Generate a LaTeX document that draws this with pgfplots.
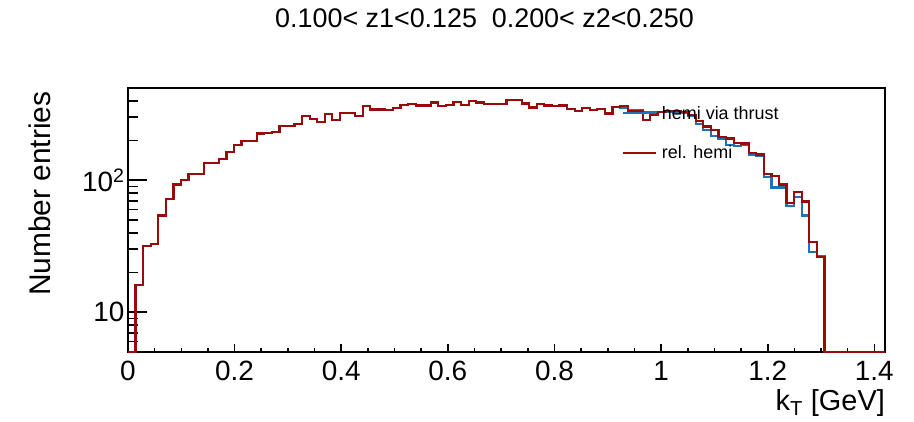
\documentclass[border=0pt]{standalone}
\usepackage{fontspec}
\setmainfont{Liberation Sans}
\usepackage{pgfplots}
\pgfplotsset{compat=1.18}
\usepackage{pgfplotstable}
\definecolor{hblue}{RGB}{30,115,180}
\definecolor{hred}{RGB}{155,10,10}

\pgfplotstableread{
x red blue
0 5 5
0.0142 16 16
0.0284 31.6 31.6
0.0426 33 33
0.0568 54 54
0.071 72 72
0.0852 93 93
0.0994 100 100
0.1136 111 111
0.1278 111 111
0.142 135 135
0.1562 135 135
0.1704 145 145
0.1846 163 163
0.1988 184 184
0.213 199 199
0.2272 199 199
0.2414 226 226
0.2556 228 228
0.2698 231 231
0.284 258 258
0.2982 258 258
0.3124 266 266
0.3266 308 308
0.3408 290 290
0.355 277 277
0.3692 317 317
0.3834 285 285
0.3976 324 324
0.4118 324 324
0.426 306 306
0.4402 365 365
0.4544 344 344
0.4686 344 344
0.4828 340 340
0.497 352 352
0.5112 371 371
0.5254 376 376
0.5396 369 369
0.5538 369 369
0.568 389 389
0.5822 363 363
0.5964 371 371
0.6106 391 391
0.6248 373 373
0.639 398 398
0.6532 389 389
0.6674 380 380
0.6816 380 380
0.6958 380 380
0.71 407 407
0.7242 407 407
0.7384 382 382
0.7526 356 356
0.7668 376 376
0.781 369 369
0.7952 363 363
0.8094 369 369
0.8236 346 346
0.8378 334 334
0.852 352 352
0.8662 340 340
0.8804 346 346
0.8946 321 321
0.9088 358 358
0.923 367 355
0.9372 334 340
0.9514 334 340
0.9656 286 330
0.9798 315 328
0.994 330 330
1.0082 334 328
1.0224 334 325
1.0366 328 323
1.0508 312 306
1.065 281 266
1.0792 255 240
1.0934 240 216
1.1076 213 205
1.1218 207 184
1.136 191 183
1.1502 190 184
1.1644 160 157
1.1786 157 152
1.1928 111 106
1.207 107 88
1.2212 93 88
1.2354 67 63.5
1.2496 81 75
1.2638 69 54
1.278 34 28.6
1.2922 26.2 26.5
1.3064 5 5
1.42 5 5
}\hist

\begin{document}
\begin{tikzpicture}
\begin{axis}[
  scale only axis, width=757bp, height=264bp,
  xmin=0, xmax=1.42,
  ymode=log, ymin=5, ymax=500,
  axis line style={line width=1.6bp, black},
  every tick/.style={black, line width=1.6bp},
  tick align=inside, xtick pos=bottom, ytick pos=left,
  xtick={0,0.2,0.4,0.6,0.8,1,1.2,1.4},
  minor x tick num=3,
  ytick={10,100}, yticklabels={10,10\textsuperscript{2}},
  minor ytick={6,7,8,9,20,30,40,50,60,70,80,90,200,300,400},
  xtick style={/pgfplots/major tick length=8bp,/pgfplots/minor tick length=4.5bp},
  ytick style={/pgfplots/major tick length=19bp,/pgfplots/minor tick length=10bp},
  /pgf/number format/assume math mode=true,
  xticklabel style={font=\fontsize{28}{30}\selectfont, anchor=base, yshift=-28bp},
  yticklabel style={font=\fontsize{28}{30}\selectfont, anchor=east},
  title={0.100< z1<0.125\hspace{0.55em}0.200< z2<0.250},
  title style={at={(rel axis cs:0.471,1.208)}, anchor=base, font=\fontsize{27}{30}\selectfont},
  ylabel={Number entries},
  ylabel style={at={(rel axis cs:-0.103,1)}, anchor=base east, font=\fontsize{30}{32}\selectfont},
  xlabel={k\textsubscript{T} [GeV]},
  xlabel style={at={(rel axis cs:1,0)}, anchor=base east, inner xsep=0pt, yshift=-58bp, font=\fontsize{29}{32}\selectfont},
  legend cell align=left,
  legend image code/.code={\draw[#1] (0bp,0bp) -- (33bp,0bp);},
  legend style={draw=none, fill=none, at={(rel axis cs:0.652,0.94)}, anchor=north west,
    inner sep=0pt, row sep=21bp, column sep=3bp,
    font=\fontsize{18}{20}\selectfont},
]
\addplot[const plot mark left, hblue, line width=2.2bp] table[x=x, y=blue] {\hist};
\addlegendentry{hemi via thrust}
\addplot[const plot mark left, hred, line width=2.2bp] table[x=x, y=red] {\hist};
\addlegendentry{rel. hemi}
\coordinate (bl) at (rel axis cs:0,0);
\coordinate (tr) at (rel axis cs:1,1);
\end{axis}
\pgfresetboundingbox
\path[use as bounding box] ([xshift=-128bp,yshift=-70bp]bl) rectangle ([xshift=29bp,yshift=88bp]tr);
\end{tikzpicture}
\end{document}
